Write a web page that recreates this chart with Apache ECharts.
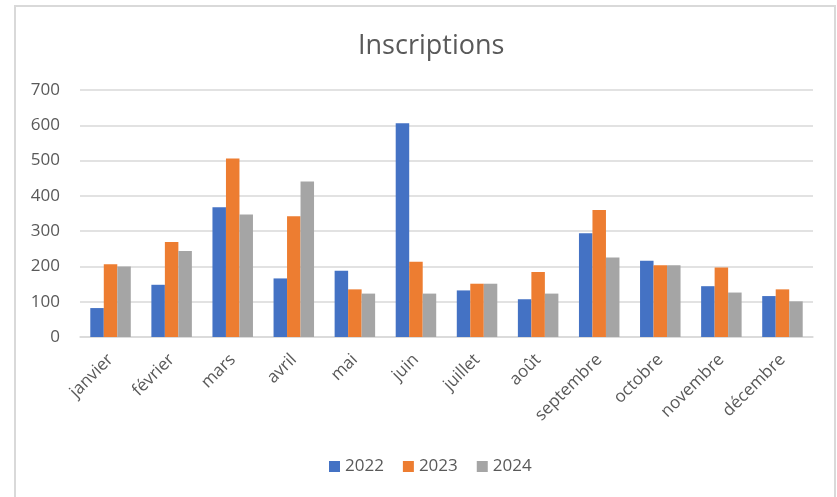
<!DOCTYPE html>
<html><head><meta charset="utf-8">
<script src="https://cdn.jsdelivr.net/npm/echarts@6/dist/echarts.min.js"></script>
<style>html,body{margin:0;padding:0;background:#fff}#c{width:837px;height:497px}</style>
</head><body><div id="c"></div>
<script>
const months = ['janvier','février','mars','avril','mai','juin','juillet','août','septembre','octobre','novembre','décembre'];
const s2022 = [82,148,368,166,188,606,132,107,294,216,144,116];
const s2023 = [206,269,506,342,135,213,151,184,360,203,197,135];
const s2024 = [200,244,347,441,123,123,151,123,225,203,126,101];
const yTicks = [0,100,200,300,400,500,600,700];
const font = "'Open Sans', 'Liberation Sans', sans-serif";
const txt = '#595959';
const chart = echarts.init(document.getElementById('c'));
const mk = (name, data, color) => ({name, type:'bar', data, barWidth:13.5, barGap:'0%', itemStyle:{color}});
chart.setOption({
  animation:false,
  graphic:[{type:'rect', shape:{x:15,y:6,width:820,height:520}, style:{fill:'none', stroke:'#D9D9D9', lineWidth:2}, silent:true}],
  title:{text:'Inscriptions', left:353, top:28, textStyle:{fontFamily:font, fontSize:27, fontWeight:'normal', color:txt}},
  legend:{top:453, left:324, itemWidth:11, itemHeight:11, itemGap:19, icon:'rect',
    textStyle:{fontFamily:font, fontSize:17, color:txt}, data:['2022','2023','2024']},
  grid:{left:80, right:24, top:90, bottom:160},
  xAxis:{type:'category', data:months, axisTick:{show:false},
    axisLine:{lineStyle:{color:'#D9D9D9', width:1.5}},
    axisLabel:{rotate:45, interval:0, fontFamily:font, fontSize:17, color:txt, margin:20}},
  yAxis:{type:'value', min:yTicks[0], max:yTicks[yTicks.length-1], interval:100,
    axisLine:{show:false}, axisTick:{show:false},
    splitLine:{lineStyle:{color:'#D9D9D9', width:1.5}},
    axisLabel:{fontFamily:font, fontSize:17, color:txt, margin:20}},
  series:[mk('2022',s2022,'#4472C4'), mk('2023',s2023,'#ED7D31'), mk('2024',s2024,'#A5A5A5')]
});
</script></body></html>
